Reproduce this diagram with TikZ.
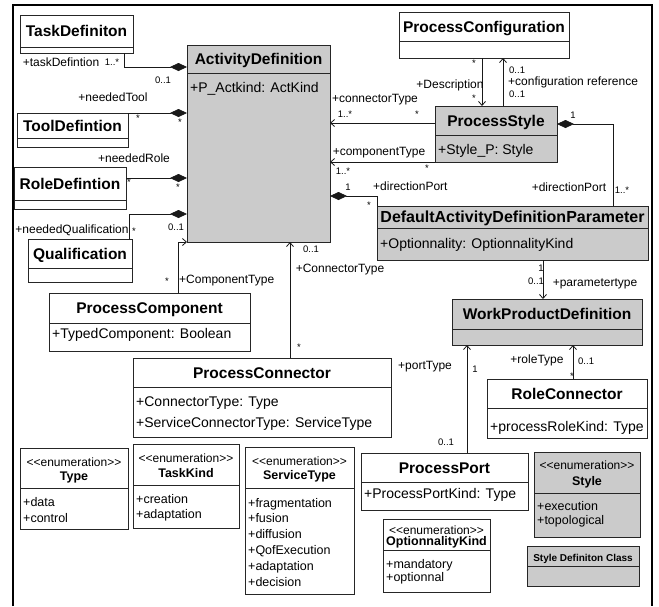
\documentclass[tikz,border=0pt]{standalone}
\usepackage{fontspec}
\setmainfont{Liberation Sans}
\usetikzlibrary{arrows.meta,calc}

\definecolor{clsgray}{RGB}{203,203,203}

\tikzset{
  clsbox/.style={draw=black!85, line width=0.9pt, inner sep=0pt, outer sep=0pt},
  clsline/.style={draw=black!85, line width=0.8pt},
  clstitle/.style={font=\fontsize{15.5}{18}\selectfont\bfseries, inner sep=0pt},
  attrtxt/.style={font=\fontsize{14}{17}\selectfont, inner sep=0pt},
  enumtxt/.style={font=\fontsize{12.5}{15}\selectfont, inner sep=0pt},
  stereo/.style={font=\fontsize{12}{14}\selectfont, inner sep=0pt},
  enumname/.style={font=\fontsize{12.5}{15}\selectfont\bfseries, inner sep=0pt},
  rolelbl/.style={font=\fontsize{12}{14}\selectfont, inner sep=0pt, text height=8.6pt, text depth=2.4pt},
  multlbl/.style={font=\fontsize{9.5}{11}\selectfont, inner sep=0pt, text height=6.5pt, text depth=0pt},
  assoc/.style={draw=black!90, line width=0.8pt},
  nav/.style={assoc, -{Straight Barb[length=4pt,width=7pt]}},
  comp/.style={assoc, -{Diamond[length=17pt,width=8pt]}},
}

% class box: name, left, top, right, divider, bottom, fill, title
\newcommand{\umlclass}[8]{%
  \node[clsbox, fill=#7, minimum width={(#4-#2)*1pt}, minimum height={(#6-#3)*1pt},
        anchor=north west] (#1) at (#2,#3) {};
  \draw[clsline] (#1.west |- 0,#5) -- (#1.east |- 0,#5);
  \node[clstitle, anchor=base] (#1-t) at ({(#2+#4)/2},{(#3+#5)/2+5.5}) {#8};
}

% enumeration box: name, left, top, right, divider, bottom, fill, title, line gap
\newcommand{\umlenum}[9]{%
  \node[clsbox, fill=#7, minimum width={(#4-#2)*1pt}, minimum height={(#6-#3)*1pt},
        anchor=north west] (#1) at (#2,#3) {};
  \draw[clsline] (#1.west |- 0,#5) -- (#1.east |- 0,#5);
  \node[stereo, anchor=base] (#1-s) at ({(#2+#4)/2},{(#3+#5)/2-#9/2+5}) {<{}<enumeration>{}>};
  \node[enumname, anchor=base] (#1-t) at ({(#2+#4)/2},{(#3+#5)/2+#9/2+5}) {#8};
}

% attribute lines: name, left, first baseline, line gap, style, items
\newcommand{\attrlines}[6]{%
  \foreach \txt [count=\k] in {#6}{%
    \node[#5, anchor=base west] (#1-a\k) at (#2,{#3+(\k-1)*#4}) {\txt};
  }%
}

\begin{document}
\begin{tikzpicture}[x=1pt, y=-1pt]
\useasboundingbox (0,0) rectangle (659,606);
\fill[white] (0,0) rectangle (659,606);
\draw[line width=2pt, black] (13,606) -- (13,5) -- (652,5) -- (652,606);

% ---- classes ----
\umlclass{td}{20}{15}{133}{47}{53}{white}{TaskDefiniton}
\umlclass{tool}{17}{113}{128}{138}{147}{white}{ToolDefintion}
\umlclass{rd}{14}{167}{126}{200}{209}{white}{RoleDefintion}
\umlclass{qual}{28}{239}{132}{268}{282}{white}{Qualification}
\umlclass{ad}{187}{45}{330}{73}{242}{clsgray}{ActivityDefinition}
\umlclass{pcomp}{49}{293}{250}{323}{351}{white}{ProcessComponent}
\umlclass{pconn}{133}{358}{391}{387}{437}{white}{ProcessConnector}
\umlclass{pconf}{399}{12}{569}{41}{58}{white}{ProcessConfiguration}
\umlclass{ps}{435}{106}{557}{135}{162}{clsgray}{ProcessStyle}
\umlclass{dadp}{377}{206}{648}{228}{260}{clsgray}{{\fontsize{16}{19}\selectfont DefaultActivityDefinitionParameter}}
\umlclass{wpd}{452}{299}{642}{329}{345}{clsgray}{WorkProductDefinition}
\umlclass{rc}{487}{379}{647}{408}{438}{white}{RoleConnector}
\umlclass{pport}{361}{453}{528}{482}{510}{white}{ProcessPort}
\umlclass{sdc}{527}{546}{639}{566}{586}{clsgray}{{\fontsize{10}{12}\selectfont Style Definiton Class}}

\attrlines{ad}{190}{92.5}{0}{attrtxt}{+P\_Actkind: ActKind}
\attrlines{pcomp}{52}{338}{0}{attrtxt}{+TypedComponent: Boolean}
\attrlines{pconn}{136}{406}{21}{attrtxt}{+ConnectorType: Type,+ServiceConnectorType: ServiceType}
\attrlines{ps}{438}{154}{0}{attrtxt}{+Style\_P: Style}
\attrlines{dadp}{380}{248}{0}{attrtxt}{+Optionnality: OptionnalityKind}
\attrlines{rc}{490}{431}{0}{attrtxt}{+processRoleKind: Type}
\attrlines{pport}{364}{498}{0}{attrtxt}{+ProcessPortKind: Type}

% ---- enumerations ----
\umlenum{etype}{20}{448}{128}{488}{529}{white}{Type}{14}
\attrlines{etype}{23}{506}{16}{enumtxt}{+data,+control}
\umlenum{etask}{133}{444}{239}{485}{528}{white}{TaskKind}{15}
\attrlines{etask}{136}{503}{15}{enumtxt}{+creation,+adaptation}
\umlenum{eserv}{245}{447}{354}{488}{594}{white}{ServiceType}{14}
\attrlines{eserv}{248}{507}{15.8}{enumtxt}{+fragmentation,+fusion,+diffusion,+QofExecution,+adaptation,+decision}
\umlenum{eopt}{383}{519}{490}{550}{592}{white}{OptionnalityKind}{11}
\attrlines{eopt}{386}{568}{13}{enumtxt}{+mandatory,+optionnal}
\umlenum{estyle}{534}{452}{640}{493}{537}{clsgray}{Style}{16}
\attrlines{estyle}{537}{510}{14}{enumtxt}{+execution,+topological}

% ---- associations ----
\draw[comp] (td.south -| 124,0) |- (ad.west |- 0,67);
\draw[comp] (tool.north east) -- (ad.west |- tool.north east);
\draw[comp] (rd.east |- 0,178) -- (ad.west |- 0,178);
\draw[comp] (qual.north -| 129,0) |- (ad.west |- 0,214);
\draw[nav] (pcomp.north -| 178,0) |- (ad.south west);
\draw[nav] (pconn.north -| 290,0) -- (ad.south -| 290,0);
\draw[nav] (ps.west |- 0,123) -- (ad.east |- 0,123);
\draw[nav] (ps.south west) -- (ad.east |- ps.south west);
\draw[comp] (dadp.north west) |- (ad.east |- 0,196);
\draw[comp] (dadp.north -| 613,0) |- (ps.east |- 0,124);
\draw[nav] (pconf.south -| 482,0) -- (ps.north -| 482,0);
\draw[nav] (ps.north -| 503,0) -- (pconf.south -| 503,0);
\draw[nav] (dadp.south -| 543,0) -- (wpd.north -| 543,0);
\draw[nav] (pport.north -| 467,0) -- (wpd.south -| 467,0);
\draw[nav] (rc.north -| 573,0) -- (wpd.south -| 573,0);

% ---- role names and multiplicities ----
\node[rolelbl] (r1) at (61,63) {+taskDefintion};
\node[multlbl] (m1) at (112,62) {1..*};
\node[multlbl] (m2) at (163,80) {0..1};
\node[rolelbl] (r2) at (113,98) {+neededTool};
\node[multlbl] (m3) at (138,118) {*};
\node[multlbl] (m4) at (180,122) {*};
\node[rolelbl] (r3) at (134,159) {+neededRole};
\node[multlbl] (m5) at (129,182) {*};
\node[multlbl] (m6) at (178,187) {*};
\node[rolelbl] (r4) at (72,230) {+neededQualification};
\node[multlbl] (m7) at (134,231) {*};
\node[multlbl] (m8) at (176,227) {0..1};
\node[multlbl] (m9) at (167,281) {*};
\node[rolelbl, anchor=west] (r5) at (179,280) {+ComponentType};
\node[rolelbl] (r6) at (375,99) {+connectorType};
\node[multlbl] (m10) at (345,114) {1..*};
\node[multlbl] (m11) at (417,114) {*};
\node[rolelbl] (r7) at (379,152) {+componentType};
\node[multlbl] (m12) at (343,171) {1..*};
\node[multlbl] (m13) at (427,168) {*};
\node[multlbl] (m14) at (348,187) {1};
\node[rolelbl, anchor=west] (r8) at (373,187) {+directionPort};
\node[multlbl] (m15) at (369,205) {*};
\node[multlbl] (m16) at (311,249) {0..1};
\node[rolelbl] (r9) at (340,269) {+ConnectorType};
\node[multlbl] (m17) at (299,347) {*};
\node[rolelbl] (r10) at (450,85) {+Description};
\node[multlbl] (m18) at (474,63) {*};
\node[multlbl] (m19) at (474,98) {*};
\node[multlbl, anchor=west] (m20) at (509,70) {0..1};
\node[rolelbl, anchor=west] (r11) at (508,82) {+configuration reference};
\node[multlbl, anchor=west] (m21) at (509,94) {0..1};
\node[multlbl] (m22) at (573,115) {1};
\node[rolelbl] (r12) at (569,188) {+directionPort};
\node[multlbl] (m23) at (622,190) {1..*};
\node[multlbl] (m24) at (541,268) {1};
\node[multlbl] (m25) at (536,281) {0..1};
\node[rolelbl] (r13) at (595,283) {+parametertype};
\node[rolelbl] (r14) at (425,366) {+portType};
\node[multlbl] (m26) at (475,369) {1};
\node[multlbl] (m27) at (446,442) {0..1};
\node[rolelbl] (r15) at (537,360) {+roleType};
\node[multlbl, anchor=west] (m28) at (578,361) {0..1};
\node[multlbl] (m29) at (572,376) {*};
\end{tikzpicture}
\end{document}
